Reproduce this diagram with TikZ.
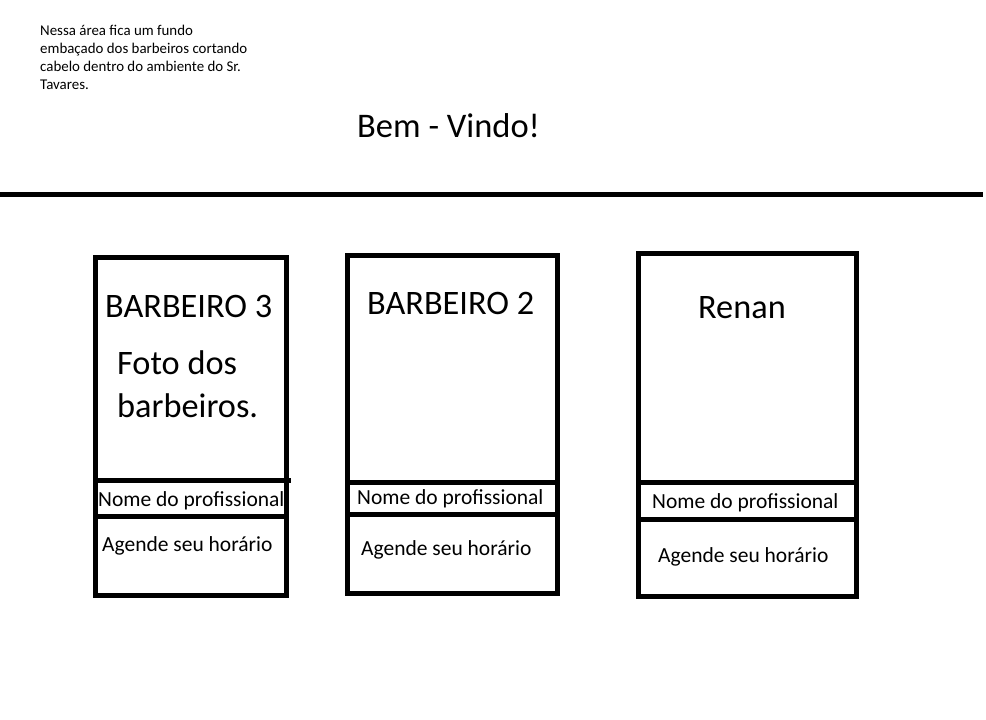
\documentclass[tikz,border=0pt]{standalone}
\usepackage{fontspec}
\setmainfont{Carlito}
\begin{document}
\begin{tikzpicture}[x=1pt,y=-1pt,
  frame/.style={draw=black,line width=5pt,line join=miter},
  divider/.style={draw=black,line width=5pt},
  txt/.style={inner sep=0pt,anchor=base west},
  note/.style={txt,font=\fontsize{14.9}{18}\selectfont},
  head/.style={txt,font=\fontsize{34.3}{40}\selectfont},
  small/.style={txt,font=\fontsize{21.5}{25}\selectfont}]
\useasboundingbox[fill=white] (0,0) rectangle (986,720);

% note text
\node[note] (n1) at (40,35.3) {Nessa área fica um fundo};
\node[note] (n2) at (40,53.3) {embaçado dos barbeiros cortando};
\node[note] (n3) at (40,71.3) {cabelo dentro do ambiente do Sr.};
\node[note] (n4) at (40,89.3) {Tavares.};

% title
\node[txt,font=\fontsize{34.5}{40}\selectfont] (title) at (357,137) {Bem - Vindo!};

% top line
\coordinate (hl) at (0,194);
\coordinate (hr) at (983,194);
\draw[line width=5pt] (hl) -- (hr);

% box 1
\coordinate (b1a) at (95,257);
\coordinate (b1b) at (286,595);
\draw[frame] (b1a) rectangle (b1b);
\coordinate (d1a) at (95,480);
\coordinate (d1b) at (291,480);
\draw[divider] (d1a) -- (d1b);
\coordinate (d1c) at (95,516);
\coordinate (d1d) at (286,516);
\draw[divider] (d1c) -- (d1d);
\node[head] (h1) at (105,317) {BARBEIRO 3};
\node[head] (f1) at (117,374) {Foto dos};
\node[head] (f2) at (117,417) {barbeiros.};
\node[small] (nm1) at (98,506) {Nome do profissional};
\node[small] (ag1) at (102,551) {Agende seu horário};

% box 2
\coordinate (b2a) at (347.5,255.5);
\coordinate (b2b) at (557,593);
\draw[frame] (b2a) rectangle (b2b);
\coordinate (d2a) at (347.5,482);
\coordinate (d2b) at (555,482);
\draw[divider] (d2a) -- (d2b);
\coordinate (d2c) at (347.5,514.5);
\coordinate (d2d) at (557,514.5);
\draw[divider] (d2c) -- (d2d);
\node[head] (h2) at (367,314) {BARBEIRO 2};
\node[small] (nm2) at (357,504) {Nome do profissional};
\node[small] (ag2) at (361,555) {Agende seu horário};

% box 3
\coordinate (b3a) at (638.5,253.5);
\coordinate (b3b) at (856,596.5);
\draw[frame] (b3a) rectangle (b3b);
\coordinate (d3a) at (638.5,482);
\coordinate (d3b) at (854,482);
\draw[divider] (d3a) -- (d3b);
\coordinate (d3c) at (638.5,519);
\coordinate (d3d) at (856,519);
\draw[divider] (d3c) -- (d3d);
\node[head] (h3) at (698,318) {Renan};
\node[small] (nm3) at (652,508) {Nome do profissional};
\node[small] (ag3) at (658,562) {Agende seu horário};
\end{tikzpicture}
\end{document}
